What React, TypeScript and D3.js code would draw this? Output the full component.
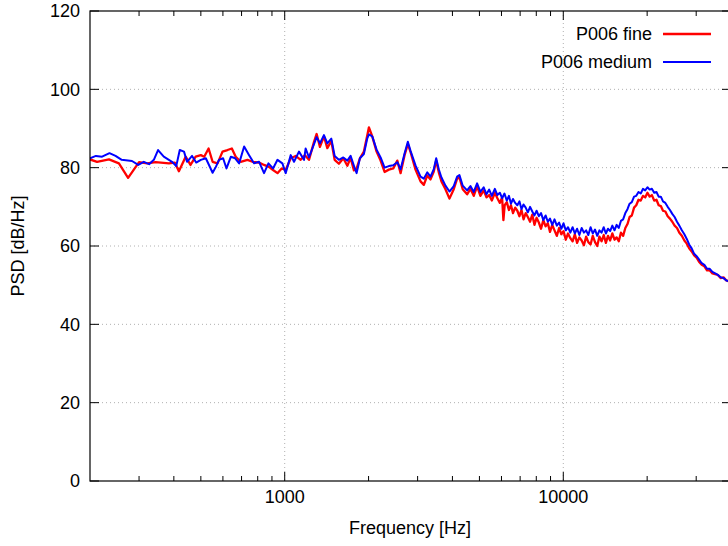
import React from "react";
import * as d3 from "d3";

const fineFreq = [200,212,234,254,274,300,321,344,384,403,417,441,459,479,500,514,533,551,574,598,623,646,667,695,735,766,809,843,878,908,942,975,1008,1051,1095,1141,1182,
1222,1274,1302,1338,1383,1422,1470,1511,1565,1623,1678,1724,1772,1812,1862,1924,1979,2006,2062,2137,2209,2283,2365,2453,2536,2606,2693,2767,2829,2948,3073,3158,3248,3338,3429,3498,3573,3653,3776,3903,4044,4159,4239,4355,4516,4642,4770,4905,
5040,5180,5300,5420,5540,5680,5800,5920,6030,6096,6160,6270,6380,6490,6600,6720,6840,6960,7080,7200,7330,7460,7600,7740,7880,8020,8170,8320,8480,8640,8800,8960,9130,9300,9480,9660,9840,10020,10210,10400,10600,10800,11000,11210,11420,11640,11860,12080,12300,12530,12760,13000,13240,13480,13720,13970,14220,14470,14730,15000,15270,15540,15820,16100,16400,16700,17000,17300,17620,17950,18280,18620,18970,19320,19680,20050,20420,20800,21200,21600,22000,22400,22800,23250,23700,24150,24620,25100,25600,26100,26640,27200,27750,28300,28900,29500,30100,30700,31400,32100,32800,33500,34300,35100,35900,36700,37600,38500,39300,40000];
const fineDb = [82.1,81.5,82.1,81.1,77.4,81.4,81.1,81.4,81.1,81.3,79.1,82.8,80.7,82.8,83.2,82.8,84.9,81.5,81.1,84.1,84.5,84.9,82.8,81.5,82.0,81.5,81.3,80.7,80.2,79.4,78.6,79.8,79.4,82.4,83.0,82.0,83.2,
82.0,86.6,88.6,85.3,88.0,85.0,86.8,82.0,81.0,82.4,80.5,82.5,79.3,79.8,82.4,84.1,88.3,90.3,88.0,84.1,81.8,78.9,79.5,79.8,81.8,78.6,83.2,86.0,84.0,79.5,76.5,75.6,78.0,77.0,79.0,81.8,78.8,76.5,74.5,72.1,74.5,77.2,77.5,74.5,73.2,74.6,72.8,75.2,
72.8,74.2,72.4,73.0,71.6,73.6,72.2,71.0,72.4,66.6,70.4,71.2,69.2,70.4,68.4,69.8,69.0,67.6,69.2,66.8,68.4,67.4,66.2,68.0,65.4,67.2,66.0,64.4,66.6,65.0,65.8,63.6,65.4,64.0,62.6,64.6,63.0,63.8,61.6,63.2,62.0,61.2,63.0,60.8,62.2,61.4,60.2,62.4,61.0,60.4,62.6,61.0,60.0,62.4,61.2,62.8,60.8,62.6,61.4,63.2,61.6,62.2,61.2,63.4,62.6,64.6,65.6,67.4,67.8,69.8,70.4,71.8,71.6,72.8,72.4,73.6,72.6,73.0,71.6,71.8,70.4,70.2,69.0,68.8,67.6,67.0,66.2,65.2,64.6,63.4,62.6,61.4,60.6,59.4,58.6,57.6,57.0,56.0,55.2,54.8,53.8,53.8,53.0,52.8,52.6,51.8,52.0,51.2,51.0,50.6];

const mediumFreq = [200,210,221,235,247,260,283,298,312,326,339,351,368,394,408,420,435,446,465,481,500,521,551,566,581,601,618,641,664,686,715,745,776,809,843,874,908,942,981,1008,1051,1080,1125,1173,
1189,1222,1274,1302,1338,1383,1422,1470,1511,1565,1623,1678,1724,1772,1812,1862,1924,1979,2006,2062,2137,2209,2283,2365,2453,2536,2606,2693,2767,2829,2948,3073,3158,3248,3338,3429,3498,3573,3653,3776,3903,4044,4159,4239,4355,4516,4642,4770,4905,
5040,5180,5300,5420,5540,5680,5800,5920,6030,6150,6270,6380,6490,6600,6720,6840,6960,7080,7200,7330,7460,7600,7740,7880,8020,8170,8320,8480,8640,8800,8960,9130,9300,9480,9660,9840,10020,10210,10400,10600,10800,11000,11210,11420,11640,11860,12080,12300,12530,12760,13000,13240,13480,13720,13970,14220,14470,14730,15000,15270,15540,15820,16100,16400,16700,17000,17300,17620,17950,18280,18620,18970,19320,19680,20050,20420,20800,21200,21600,22000,22400,22800,23250,23700,24150,24620,25100,25600,26100,26640,27200,27750,28300,28900,29500,30100,30700,31400,32100,32800,33500,34300,35100,35900,36700,37600,38500,39300,40000];
const mediumDb = [82.4,83.0,82.8,83.7,83.0,82.0,81.7,80.7,81.5,80.9,82.0,84.5,82.8,81.5,80.4,84.5,84.1,81.5,83.0,81.3,82.0,82.4,78.7,80.2,82.0,82.4,79.8,82.8,82.4,81.1,85.4,83.2,81.1,81.5,78.6,81.1,79.8,82.0,81.1,78.6,83.2,81.5,84.1,82.0,
84.9,82.6,86.0,87.8,86.2,88.3,86.2,87.4,83.0,82.0,82.6,81.8,83.0,80.5,78.6,82.4,83.5,87.5,88.5,88.0,84.6,82.6,80.0,80.4,80.6,81.4,79.6,83.6,86.6,84.3,80.6,77.7,77.2,78.8,77.7,79.6,82.4,79.6,77.5,75.4,73.9,75.3,77.7,78.1,75.4,74.2,75.3,73.8,76.0,
73.8,75.0,73.2,74.4,72.8,74.6,73.0,73.6,72.2,73.4,71.6,72.8,70.8,72.0,71.0,70.4,71.4,69.4,70.6,69.8,68.6,70.0,68.8,67.8,69.0,67.6,68.4,66.6,67.8,66.2,67.0,65.4,66.8,65.2,66.0,64.4,65.8,64.0,64.8,63.4,64.8,63.2,64.4,62.8,64.6,63.4,64.0,62.8,64.8,63.2,64.2,62.6,64.0,63.4,64.8,63.2,64.4,63.8,65.2,64.0,65.4,64.6,66.4,66.8,68.4,69.4,70.8,71.2,72.6,72.8,73.8,73.4,74.6,74.2,75.0,74.4,74.6,73.6,73.8,72.6,72.6,71.4,71.0,70.0,69.2,68.2,67.4,66.2,65.2,64.0,63.0,61.8,60.4,59.4,58.0,57.4,56.6,55.6,55.2,54.2,54.2,53.4,53.0,52.6,52.0,51.8,51.2,51.0,50.6];

const yTicks = [0, 20, 40, 60, 80, 100, 120];
const xMajorTicks = [1000, 10000];
const xMinorTicks = [300, 400, 500, 600, 700, 800, 900, 2000, 3000, 4000, 5000, 6000, 7000, 8000, 9000, 20000, 30000];
const seriesNames = ["P006 fine", "P006 medium"];
const seriesColors = ["#ff0000", "#0000ff"];

const W = 728, H = 546;
const L = 90, R = 731, T = 11, B = 481;
const FONT = "'Liberation Sans', Arial, Helvetica, sans-serif";
const FS = 18;

export default function App() {
  const x = d3.scaleLog().domain([200, 40000]).range([L, R]);
  const y = d3.scaleLinear().domain([0, 120]).range([B, T]);
  const line = d3.line<[number, number]>().x(d => x(d[0])).y(d => y(d[1]));
  const fine = fineFreq.map((f, i) => [f, fineDb[i]] as [number, number]);
  const medium = mediumFreq.map((f, i) => [f, mediumDb[i]] as [number, number]);

  return (
    <svg width={W} height={H} style={{ position: "absolute", left: 0, top: 0, background: "#fff" }} fontFamily={FONT}>
      <rect x={0} y={0} width={W} height={H} fill="#fff" />
      <defs>
        <clipPath id="plot"><rect x={L} y={T} width={R - L} height={B - T} /></clipPath>
      </defs>
      {yTicks.filter(v => v > 0 && v < 120).map(v => (
        <line key={"gy" + v} x1={L} x2={R} y1={y(v)} y2={y(v)} stroke="#b0b0b0" strokeWidth={1} strokeDasharray="1,3" />
      ))}
      {xMajorTicks.map(v => (
        <line key={"gx" + v} x1={x(v)} x2={x(v)} y1={T} y2={B} stroke="#b0b0b0" strokeWidth={1} strokeDasharray="1,3" />
      ))}
      {yTicks.map(v => (
        <g key={"ty" + v}>
          <line x1={L} x2={L + 9} y1={y(v)} y2={y(v)} stroke="#000" />
          <line x1={R - 9} x2={R} y1={y(v)} y2={y(v)} stroke="#000" />
          <text x={80} y={y(v)} dy="0.36em" textAnchor="end" fontSize={FS} fill="#000">{v}</text>
        </g>
      ))}
      {xMajorTicks.map(v => (
        <g key={"tx" + v}>
          <line x1={x(v)} x2={x(v)} y1={B} y2={B - 9} stroke="#000" />
          <line x1={x(v)} x2={x(v)} y1={T} y2={T + 9} stroke="#000" />
          <text x={x(v)} y={497} dy="0.36em" textAnchor="middle" fontSize={FS} fill="#000">{v}</text>
        </g>
      ))}
      {xMinorTicks.map(v => (
        <g key={"tm" + v}>
          <line x1={x(v)} x2={x(v)} y1={B} y2={B - 5} stroke="#000" />
          <line x1={x(v)} x2={x(v)} y1={T} y2={T + 5} stroke="#000" />
        </g>
      ))}
      <g clipPath="url(#plot)">
        <path d={line(fine) || ""} fill="none" stroke={seriesColors[0]} strokeWidth={2.3} strokeLinejoin="round" />
        <path d={line(medium) || ""} fill="none" stroke={seriesColors[1]} strokeWidth={2} strokeLinejoin="round" />
      </g>
      <rect x={L} y={T} width={R - L} height={B - T} fill="none" stroke="#000" strokeWidth={1.2} />
      {seriesNames.map((n, i) => (
        <g key={n}>
          <text x={652} y={34 + i * 28} dy="0.36em" textAnchor="end" fontSize={FS} fill="#000">{n}</text>
          <line x1={663} x2={711} y1={34 + i * 28} y2={34 + i * 28} stroke={seriesColors[i]} strokeWidth={i === 0 ? 2.3 : 2} />
        </g>
      ))}
      <text x={410} y={528} dy="0.36em" textAnchor="middle" fontSize={FS} fill="#000">Frequency [Hz]</text>
      <text transform={`translate(18,246) rotate(-90)`} dy="0.36em" textAnchor="middle" fontSize={FS} fill="#000">PSD [dB/Hz]</text>
    </svg>
  );
}
